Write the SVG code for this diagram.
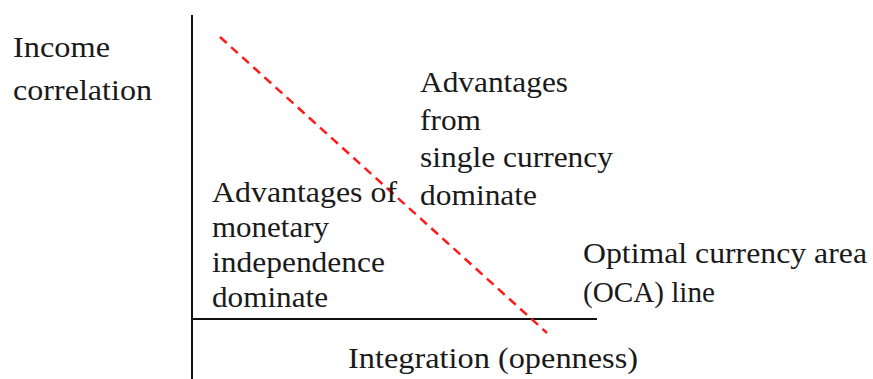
<svg xmlns="http://www.w3.org/2000/svg" width="873" height="379" viewBox="0 0 873 379">
  <style>
    .lbl { font-family: "Liberation Serif", "Times New Roman", serif; font-size: 29px; fill: #1a1a1a; }
    .axis { stroke: #111; stroke-width: 2; fill: none; }
    .oca { stroke: #ff1a1a; stroke-width: 2.5; stroke-dasharray: 9 6; fill: none; }
  </style>
  <rect width="873" height="379" fill="#fff"/>
  <g id="axes">
    <line class="axis" x1="192" y1="15" x2="192" y2="379"/>
    <line class="axis" x1="192" y1="319" x2="597" y2="319"/>
  </g>
  <g id="connectors">
    <line class="oca" x1="220" y1="37" x2="547" y2="333"/>
  </g>
  <g id="y-label">
    <text class="lbl" x="13" y="57" textLength="97" lengthAdjust="spacingAndGlyphs">Income</text>
    <text class="lbl" x="13" y="100" textLength="139" lengthAdjust="spacingAndGlyphs">correlation</text>
  </g>
  <g id="single-currency">
    <text class="lbl" x="420" y="92" textLength="148" lengthAdjust="spacingAndGlyphs">Advantages</text>
    <text class="lbl" x="420" y="130" textLength="61" lengthAdjust="spacingAndGlyphs">from</text>
    <text class="lbl" x="420" y="167" textLength="193" lengthAdjust="spacingAndGlyphs">single currency</text>
    <text class="lbl" x="420" y="205" textLength="117" lengthAdjust="spacingAndGlyphs">dominate</text>
  </g>
  <g id="monetary-independence">
    <text class="lbl" x="212" y="202" textLength="185" lengthAdjust="spacingAndGlyphs">Advantages of</text>
    <text class="lbl" x="212" y="237" textLength="117" lengthAdjust="spacingAndGlyphs">monetary</text>
    <text class="lbl" x="212" y="272" textLength="173" lengthAdjust="spacingAndGlyphs">independence</text>
    <text class="lbl" x="212" y="307" textLength="116" lengthAdjust="spacingAndGlyphs">dominate</text>
  </g>
  <g id="oca-label">
    <text class="lbl" x="583" y="263" textLength="284" lengthAdjust="spacingAndGlyphs">Optimal currency area</text>
    <text class="lbl" x="583" y="302" textLength="132" lengthAdjust="spacingAndGlyphs">(OCA) line</text>
  </g>
  <g id="x-label">
    <text class="lbl" x="348" y="368" textLength="290" lengthAdjust="spacingAndGlyphs">Integration (openness)</text>
  </g>
</svg>
